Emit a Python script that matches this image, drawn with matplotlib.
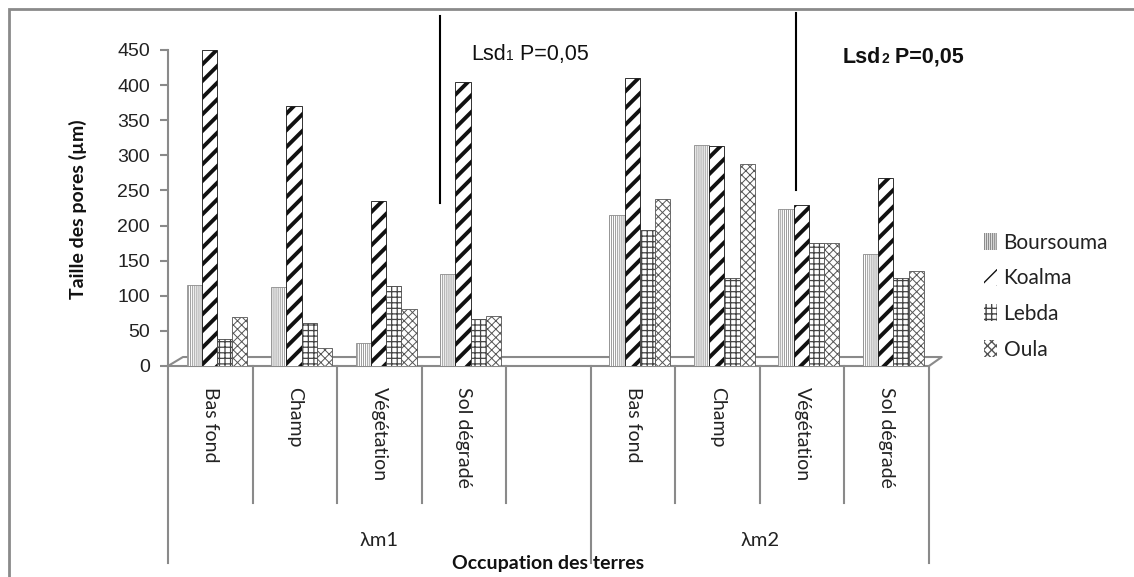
import matplotlib.pyplot as plt
import numpy as np
from matplotlib.patches import Rectangle, Patch
from matplotlib.offsetbox import TextArea, HPacker, AnnotationBbox

# Data (taille des pores, µm)
sites = ['Boursouma', 'Koalma', 'Lebda', 'Oula']
uses = ['Bas fond', 'Champ', 'Végétation', 'Sol dégradé']
groups = ['λm1', 'λm2']

lm1_boursouma = [115, 112, 33, 131]
lm1_koalma = [450, 370, 235, 404]
lm1_lebda = [38, 61, 114, 67]
lm1_oula = [70, 25, 81, 71]

lm2_boursouma = [215, 315, 223, 159]
lm2_koalma = [410, 313, 229, 268]
lm2_lebda = [193, 125, 175, 125]
lm2_oula = [238, 288, 175, 135]

# Lsd bars (start, end)
lsd1 = (232, 498)
lsd2 = (251, 503)

lm1 = [lm1_boursouma, lm1_koalma, lm1_lebda, lm1_oula]
lm2 = [lm2_boursouma, lm2_koalma, lm2_lebda, lm2_oula]

styles = [
    dict(hatch='||||||||', edgecolor='#8c8c8c', hlw=0.6),
    dict(hatch='//', edgecolor='#111111', hlw=2.8),
    dict(hatch='+++', edgecolor='#444444', hlw=0.9),
    dict(hatch='xxxx', edgecolor='#555555', hlw=0.7),
]

fig = plt.figure(figsize=(11.34, 5.77), dpi=100)
ax = fig.add_axes([168 / 1134, 1 - 366 / 577, (929 - 168) / 1134, 316 / 577])

x1 = np.arange(4)
x2 = np.arange(4) + 5
w = 0.18
gray = '#8a8a8a'

# 3D-ish floor
ax.plot([-0.5, -0.323, 8.65, 8.5], [0, 12.8, 12.8, 0], color=gray, lw=1.5,
        clip_on=False, zorder=1)

for i, st in enumerate(styles):
    off = (i - 1.5) * w + 0.08
    for xs, vals in ((x1, lm1[i]), (x2, lm2[i])):
        with plt.rc_context({'hatch.linewidth': st['hlw']}):
            bars = ax.bar(xs + off, vals, w, facecolor='white',
                          edgecolor=st['edgecolor'], hatch=st['hatch'],
                          linewidth=0.6, zorder=3)
        for b in bars:
            if hasattr(b, 'set_hatch_linewidth'):
                b.set_hatch_linewidth(st['hlw'])

ax.set_xlim(-0.5, 8.5)
ax.set_ylim(0, 450)
ax.set_yticks(np.arange(0, 451, 50))
ax.set_xticks([])
for s in ['top', 'right']:
    ax.spines[s].set_visible(False)
for s in ['left', 'bottom']:
    ax.spines[s].set_color(gray)
    ax.spines[s].set_linewidth(1.5)
ax.tick_params(axis='y', colors=gray, length=6, width=1.5, pad=7,
               labelcolor='#222222', labelsize=14)
for t in ax.get_yticklabels():
    t.set_fontfamily('Liberation Sans')

# category labels and dividers
xt = ax.get_xaxis_transform()
cat_x = list(x1) + list(x2)
for cx, name in zip(cat_x, uses + uses):
    ax.annotate(name, xy=(cx, 0), xycoords=xt, xytext=(0, -15),
                textcoords='offset points', rotation=-90, ha='center',
                va='top', fontsize=14, family='Lato', color='#222222')
for k in range(10):
    xk = -0.5 + k
    bottom = -0.6234 if k in (0, 5, 9) else -0.4335
    ax.plot([xk, xk], [0, bottom], transform=xt, color=gray, lw=1.5,
            clip_on=False)
for gx, g in zip([2.0, 6.5], groups):
    ax.annotate(g, xy=(gx, 0), xycoords=xt, xytext=(0, -126),
                textcoords='offset points', ha='center', va='center',
                fontsize=14.5, family='Lato', color='#222222')
ax.annotate('Occupation des terres', xy=(4.0, 0), xycoords=xt,
            xytext=(0, -142), textcoords='offset points', ha='center',
            va='center', fontsize=14, family='Lato', fontweight='bold',
            color='#111111')

fig.text(78 / 1134, 1 - 209 / 577, 'Taille des pores (µm)', rotation=90,
         ha='center', va='center', fontsize=14, family='Lato',
         fontweight='bold', color='#111111')

# Lsd annotations
ax.plot([2.715, 2.715], lsd1, color='black', lw=1.5, clip_on=False, zorder=5)
ax.plot([6.93, 6.93], lsd2, color='black', lw=1.5, clip_on=False, zorder=5)


def lsd_label(idx, x, y, weight):
    tp = dict(family='Liberation Sans', fontsize=15.5, color='#111111',
              fontweight=weight)
    tsmall = dict(tp, fontsize=10)
    box = HPacker(children=[TextArea('Lsd', textprops=tp),
                            TextArea(idx, textprops=tsmall),
                            TextArea(' P=0,05', textprops=tp)],
                  align='baseline', pad=0, sep=0)
    ab = AnnotationBbox(box, (x, y), xycoords='data', box_alignment=(0, 0.5),
                        frameon=False, annotation_clip=False)
    ax.add_artist(ab)


lsd_label('1', 3.09, 443, 'normal')
lsd_label('2', 7.48, 440, 'bold')

# legend
handles = []
for st, name in zip(styles, sites):
    handles.append(Patch(facecolor='white', edgecolor=st['edgecolor'],
                         hatch=st['hatch'], linewidth=0, label=name))
fig.legend(handles=handles, loc='upper left',
           bbox_to_anchor=(965 / 1134, 1 - 214 / 577), frameon=False,
           prop={'family': 'Lato', 'size': 15}, handlelength=0.65,
           handleheight=0.9, handletextpad=0.3, labelspacing=0.75,
           labelcolor='#222222')

# outer frame
fig.add_artist(Rectangle((9 / 1134, -0.5), 2, 0.5 + 1 - 9 / 577,
                         transform=fig.transFigure, fill=False,
                         edgecolor='#8a8a8a', lw=2))

fig.savefig('out.png', dpi=100, facecolor='white')
